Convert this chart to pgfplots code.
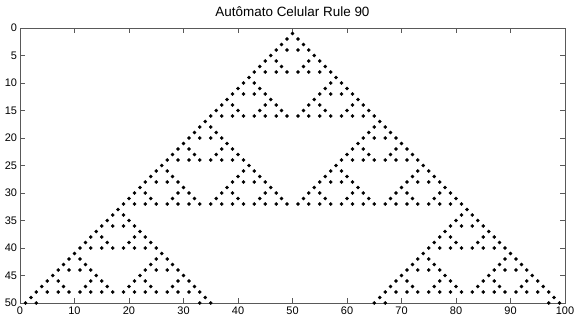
\documentclass[border=0pt]{standalone}
\usepackage{fontspec}
\setmainfont{Liberation Sans}
\usepackage{pgfplots}
\pgfplotsset{compat=1.18}

\begin{document}
\begin{tikzpicture}
\begin{axis}[
  scale only axis,
  width=545bp, height=275bp,
  xmin=0, xmax=100, ymin=0, ymax=50,
  y dir=reverse,
  xtick={0,10,...,100},
  ytick={0,5,...,50},
  tick align=inside,
  tick pos=both,
  major tick length=5bp,
  axis line style={black!65, line width=0.6pt},
  every tick/.style={black!65, line width=0.6pt},
  tick label style={font=\fontsize{11}{13}\selectfont},
  /pgf/number format/assume math mode=true,
  xticklabel style={yshift=-0.5bp},
  yticklabel style={xshift=0.5bp},
  title={Autômato Celular Rule 90},
  title style={font=\fontsize{13.5}{15}\selectfont, yshift=2bp},
]
% live cells of the elementary automaton, one line per generation (row = generation + 1)
\addplot[only marks, mark=*, mark size=1.6bp, black] coordinates {
(50,1)
(49,2) (51,2)
(48,3) (52,3)
(47,4) (49,4) (51,4) (53,4)
(46,5) (54,5)
(45,6) (47,6) (53,6) (55,6)
(44,7) (48,7) (52,7) (56,7)
(43,8) (45,8) (47,8) (49,8) (51,8) (53,8) (55,8) (57,8)
(42,9) (58,9)
(41,10) (43,10) (57,10) (59,10)
(40,11) (44,11) (56,11) (60,11)
(39,12) (41,12) (43,12) (45,12) (55,12) (57,12) (59,12) (61,12)
(38,13) (46,13) (54,13) (62,13)
(37,14) (39,14) (45,14) (47,14) (53,14) (55,14) (61,14) (63,14)
(36,15) (40,15) (44,15) (48,15) (52,15) (56,15) (60,15) (64,15)
(35,16) (37,16) (39,16) (41,16) (43,16) (45,16) (47,16) (49,16) (51,16) (53,16) (55,16) (57,16) (59,16) (61,16) (63,16) (65,16)
(34,17) (66,17)
(33,18) (35,18) (65,18) (67,18)
(32,19) (36,19) (64,19) (68,19)
(31,20) (33,20) (35,20) (37,20) (63,20) (65,20) (67,20) (69,20)
(30,21) (38,21) (62,21) (70,21)
(29,22) (31,22) (37,22) (39,22) (61,22) (63,22) (69,22) (71,22)
(28,23) (32,23) (36,23) (40,23) (60,23) (64,23) (68,23) (72,23)
(27,24) (29,24) (31,24) (33,24) (35,24) (37,24) (39,24) (41,24) (59,24) (61,24) (63,24) (65,24) (67,24) (69,24) (71,24) (73,24)
(26,25) (42,25) (58,25) (74,25)
(25,26) (27,26) (41,26) (43,26) (57,26) (59,26) (73,26) (75,26)
(24,27) (28,27) (40,27) (44,27) (56,27) (60,27) (72,27) (76,27)
(23,28) (25,28) (27,28) (29,28) (39,28) (41,28) (43,28) (45,28) (55,28) (57,28) (59,28) (61,28) (71,28) (73,28) (75,28) (77,28)
(22,29) (30,29) (38,29) (46,29) (54,29) (62,29) (70,29) (78,29)
(21,30) (23,30) (29,30) (31,30) (37,30) (39,30) (45,30) (47,30) (53,30) (55,30) (61,30) (63,30) (69,30) (71,30) (77,30) (79,30)
(20,31) (24,31) (28,31) (32,31) (36,31) (40,31) (44,31) (48,31) (52,31) (56,31) (60,31) (64,31) (68,31) (72,31) (76,31) (80,31)
(19,32) (21,32) (23,32) (25,32) (27,32) (29,32) (31,32) (33,32) (35,32) (37,32) (39,32) (41,32) (43,32) (45,32) (47,32) (49,32) (51,32) (53,32) (55,32) (57,32) (59,32) (61,32) (63,32) (65,32) (67,32) (69,32) (71,32) (73,32) (75,32) (77,32) (79,32) (81,32)
(18,33) (82,33)
(17,34) (19,34) (81,34) (83,34)
(16,35) (20,35) (80,35) (84,35)
(15,36) (17,36) (19,36) (21,36) (79,36) (81,36) (83,36) (85,36)
(14,37) (22,37) (78,37) (86,37)
(13,38) (15,38) (21,38) (23,38) (77,38) (79,38) (85,38) (87,38)
(12,39) (16,39) (20,39) (24,39) (76,39) (80,39) (84,39) (88,39)
(11,40) (13,40) (15,40) (17,40) (19,40) (21,40) (23,40) (25,40) (75,40) (77,40) (79,40) (81,40) (83,40) (85,40) (87,40) (89,40)
(10,41) (26,41) (74,41) (90,41)
(9,42) (11,42) (25,42) (27,42) (73,42) (75,42) (89,42) (91,42)
(8,43) (12,43) (24,43) (28,43) (72,43) (76,43) (88,43) (92,43)
(7,44) (9,44) (11,44) (13,44) (23,44) (25,44) (27,44) (29,44) (71,44) (73,44) (75,44) (77,44) (87,44) (89,44) (91,44) (93,44)
(6,45) (14,45) (22,45) (30,45) (70,45) (78,45) (86,45) (94,45)
(5,46) (7,46) (13,46) (15,46) (21,46) (23,46) (29,46) (31,46) (69,46) (71,46) (77,46) (79,46) (85,46) (87,46) (93,46) (95,46)
(4,47) (8,47) (12,47) (16,47) (20,47) (24,47) (28,47) (32,47) (68,47) (72,47) (76,47) (80,47) (84,47) (88,47) (92,47) (96,47)
(3,48) (5,48) (7,48) (9,48) (11,48) (13,48) (15,48) (17,48) (19,48) (21,48) (23,48) (25,48) (27,48) (29,48) (31,48) (33,48) (67,48) (69,48) (71,48) (73,48) (75,48) (77,48) (79,48) (81,48) (83,48) (85,48) (87,48) (89,48) (91,48) (93,48) (95,48) (97,48)
(2,49) (34,49) (66,49) (98,49)
(1,50) (3,50) (33,50) (35,50) (65,50) (67,50) (97,50) (99,50)
};
\end{axis}
\pgfresetboundingbox
\path (-20bp,-23bp) rectangle (554bp,303bp);
\end{tikzpicture}
\end{document}
